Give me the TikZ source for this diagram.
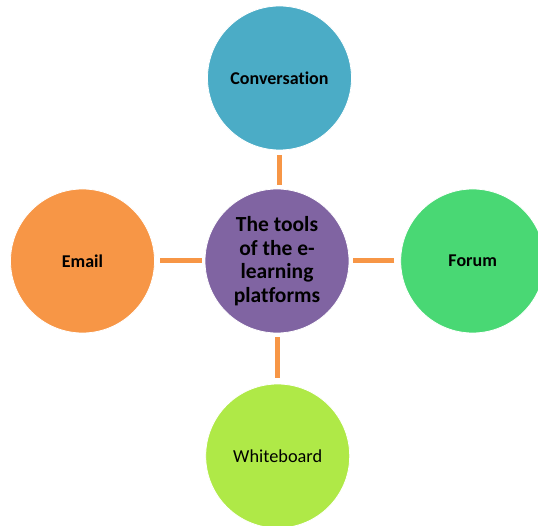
\documentclass[tikz,border=0pt]{standalone}
\usepackage{fontspec}
\setmainfont{Carlito}[Ligatures={NoCommon}]
\definecolor{cblue}{HTML}{4BACC6}
\definecolor{cpurple}{HTML}{8064A2}
\definecolor{corange}{HTML}{F79646}
\definecolor{cgreen}{HTML}{49D874}
\definecolor{clime}{HTML}{AFE947}
\begin{document}
\begin{tikzpicture}[x=1pt,y=-1pt,
  bubble/.style={circle,minimum size=144pt,inner sep=0pt,draw=white,line width=0.8pt,align=center,text=black},
  lbl/.style={font=\fontsize{18}{21}\selectfont\bfseries},
  link/.style={draw=corange,line width=5pt}]
\useasboundingbox (0,0) rectangle (538,526);
\node[bubble,fill=cpurple,font=\fontsize{21.5}{23.5}\selectfont\bfseries] (hub) at (277,261) {The tools\\of the e-\\learning\\platforms};
\node[bubble,fill=cblue,lbl] (conv) at (279.5,78) {Conversation};
\node[bubble,fill=corange,lbl] (mail) at (82.5,261) {Email};
\node[bubble,fill=cgreen,lbl] (forum) at (472.7,261) {Forum};
\node[bubble,fill=clime,font=\fontsize{18.3}{21}\selectfont] (wb) at (277.7,456) {Whiteboard};
\path[link] ([yshift=-5pt]conv.south) -- ([yshift=3.5pt]conv.south |- hub.north);
\path[link] ([yshift=5.6pt]wb.north) -- ([yshift=-3.5pt]wb.north |- hub.south);
\path[link] ([xshift=5.5pt]mail.east) -- ([xshift=-2.5pt]hub.west);
\path[link] ([xshift=-6pt]forum.west) -- ([xshift=3.8pt]hub.east);
\end{tikzpicture}
\end{document}
